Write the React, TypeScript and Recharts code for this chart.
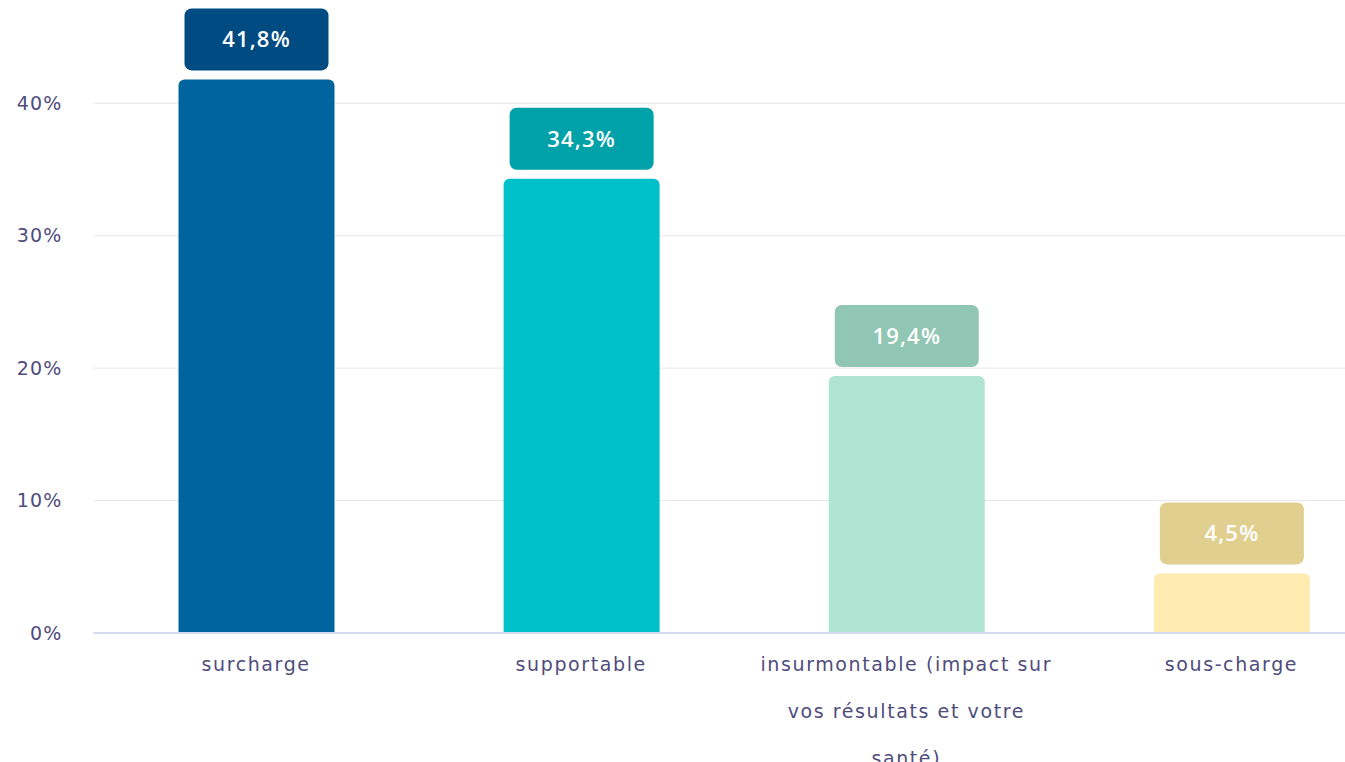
import React from 'react';
import { BarChart, Bar, XAxis, YAxis, CartesianGrid, Cell, LabelList } from 'recharts';

const categories = ['surcharge', 'supportable', 'insurmontable (impact sur vos résultats et votre santé)', 'sous-charge'];
const values = [41.8, 34.3, 19.4, 4.5];
const barColors = ['#00649e', '#00c1ca', '#b0e4d3', '#feebb0'];
const labelColors = ['#004b82', '#00a1a9', '#92c6b4', '#e0cf8f'];
const yTicks = [0, 10, 20, 30, 40];

const data = categories.map((name, i) => ({ name, value: values[i], color: barColors[i], labelColor: labelColors[i] }));

const FONT = '"DejaVu Sans", sans-serif';
const TEXT = '#4f4c7c';

function wrap(text: string, max: number) {
  const lines: string[] = [];
  let cur = '';
  text.split(' ').forEach((w) => {
    const next = cur ? cur + ' ' + w : w;
    if (next.length > max && cur) {
      lines.push(cur);
      cur = w;
    } else {
      cur = next;
    }
  });
  if (cur) lines.push(cur);
  return lines;
}

const CategoryTick = ({ x, y, payload }: any) => {
  const lines = wrap(payload.value, 26);
  return (
    <g transform={`translate(${x},${y})`}>
      {lines.map((l, i) => (
        <text key={i} x={0} y={30 + i * 47} textAnchor="middle" fill={TEXT} fontSize={19} letterSpacing={1.6} fontFamily={FONT}>
          {l}
        </text>
      ))}
    </g>
  );
};

const ValueBox = (props: any) => {
  const { x, y, width, value, index } = props;
  const w = 144;
  const h = 62;
  const cx = x + width / 2;
  const bottom = y - 9;
  return (
    <g>
      <rect x={cx - w / 2} y={bottom - h} width={w} height={h} rx={7} ry={7} fill={labelColors[index]} />
      <text x={cx} y={bottom - h / 2 + 8} textAnchor="middle" fill="#ffffff" fontSize={22} fontWeight={600} letterSpacing={1.2} fontFamily='"Open Sans", sans-serif'>
        {String(value).replace('.', ',')}%
      </text>
    </g>
  );
};

export default function App() {
  return (
    <div style={{ position: 'absolute', left: 0, top: 0, width: 1345, height: 762, overflow: 'hidden', background: '#fff' }}>
      <BarChart width={1394} height={762} data={data} margin={{ top: 37, right: 0, bottom: 0, left: 0 }} barSize={156}>
        <CartesianGrid vertical={false} stroke="#e7e7ec" horizontalValues={yTicks} />
        <XAxis
          dataKey="name"
          height={129}
          interval={0}
          tickLine={false}
          axisLine={{ stroke: '#d3dbf0', strokeWidth: 2 }}
          tick={<CategoryTick />}
        />
        <YAxis
          width={93.5}
          domain={[0, 45]}
          ticks={yTicks}
          tickLine={false}
          axisLine={false}
          tickMargin={25}
          tickFormatter={(v) => `${v}%`}
          tick={{ fill: TEXT, fontSize: 19, fontFamily: FONT, letterSpacing: 1.2 }}
        />
        <Bar dataKey="value" radius={[6, 6, 0, 0]} isAnimationActive={false}>
          {data.map((d, i) => (
            <Cell key={i} fill={d.color} />
          ))}
          <LabelList dataKey="value" content={<ValueBox />} />
        </Bar>
      </BarChart>
    </div>
  );
}
